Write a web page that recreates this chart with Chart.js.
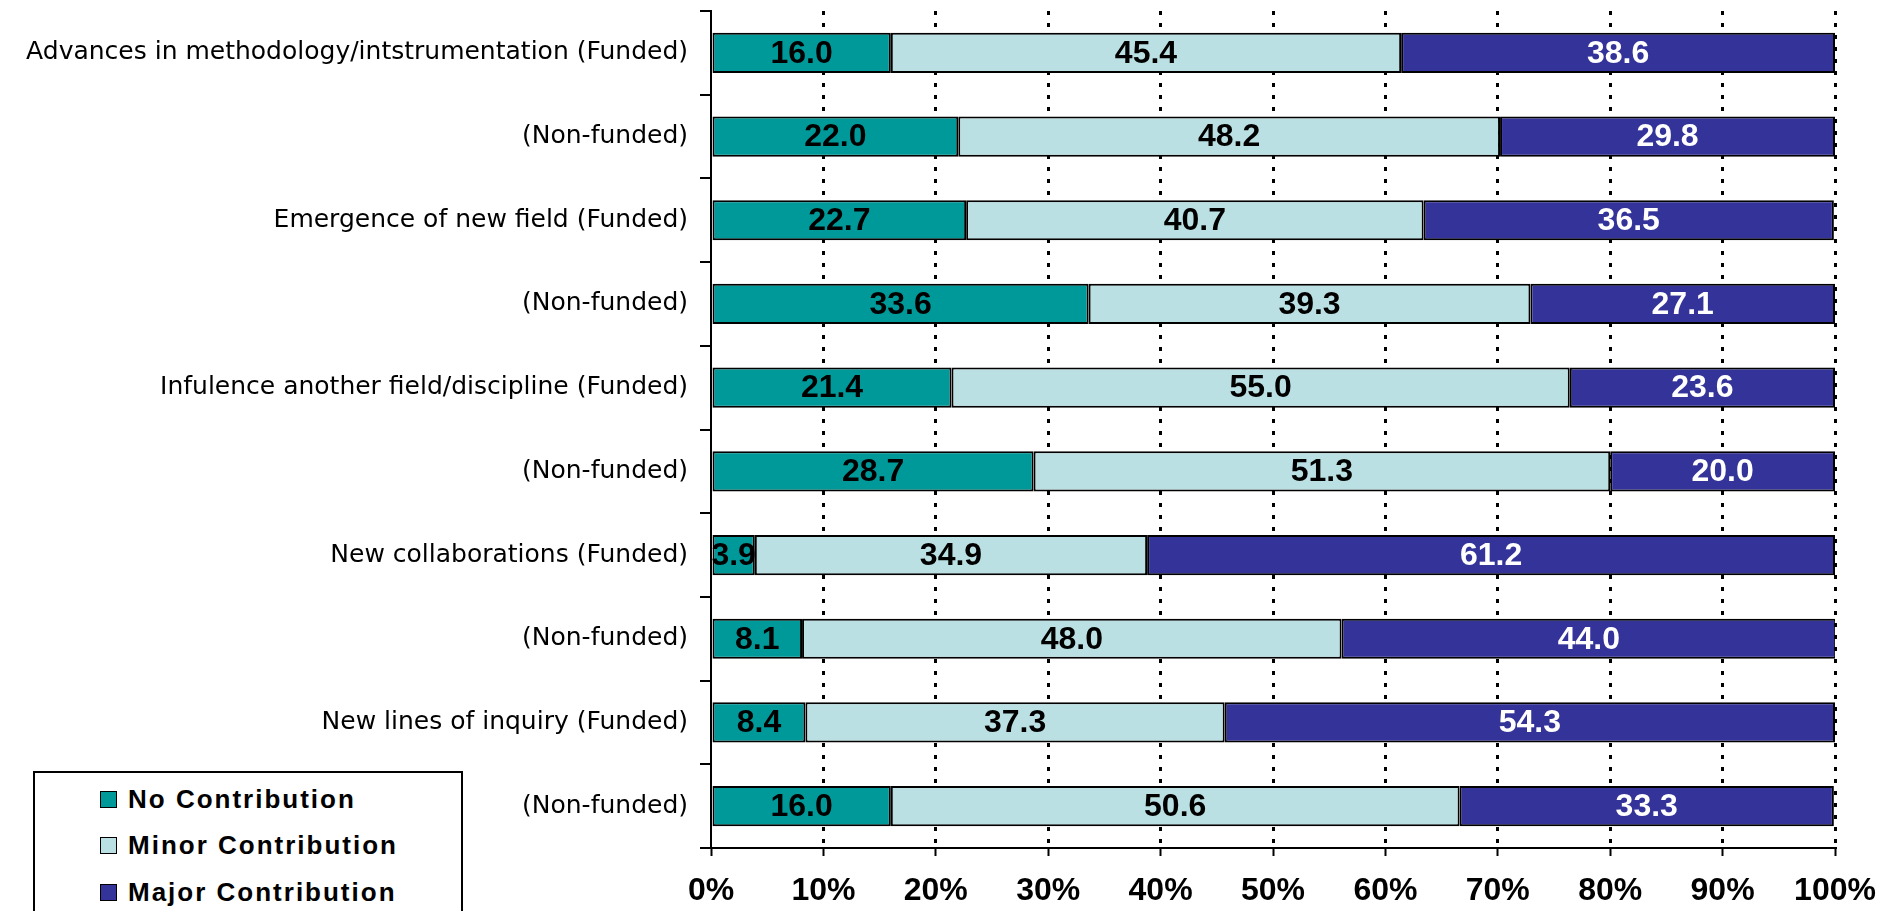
<!DOCTYPE html>
<html>
<head>
<meta charset="utf-8">
<script src="https://cdn.jsdelivr.net/npm/chart.js@4.4.1/dist/chart.umd.min.js"></script>
<style>
  html, body { margin: 0; padding: 0; background: #fff; }
  #wrap { position: relative; width: 1882px; height: 911px; overflow: hidden; }
  #legend {
    position: absolute; left: 33px; top: 771px; width: 430px; height: 160px;
    border: 2px solid #000; background: #fff; box-sizing: border-box;
    font-family: "Liberation Sans", Arial, sans-serif; font-weight: bold; font-size: 26px;
    letter-spacing: 2px; color: #000;
  }
  .li { position: absolute; left: 65px; height: 32px; display: flex; align-items: center; white-space: nowrap; }
  .sw { width: 15px; height: 15px; border: 1.5px solid #000; margin-right: 11px; flex: none; }
</style>
</head>
<body>
<div id="wrap">
  <canvas id="c" width="1882" height="911"></canvas>
  <div id="legend"></div>
</div>
<script>
const categories = [
  "Advances in methodology/intstrumentation (Funded)",
  "(Non-funded)",
  "Emergence of new field (Funded)",
  "(Non-funded)",
  "Infulence another field/discipline (Funded)",
  "(Non-funded)",
  "New collaborations (Funded)",
  "(Non-funded)",
  "New lines of inquiry (Funded)",
  "(Non-funded)"
];
const seriesNames = ["No Contribution", "Minor Contribution", "Major Contribution"];
const noContribution    = [16.0, 22.0, 22.7, 33.6, 21.4, 28.7, 3.9, 8.1, 8.4, 16.0];
const minorContribution = [45.4, 48.2, 40.7, 39.3, 55.0, 51.3, 34.9, 48.0, 37.3, 50.6];
const majorContribution = [38.6, 29.8, 36.5, 27.1, 23.6, 20.0, 61.2, 44.0, 54.3, 33.3];
const xTicks = [0, 10, 20, 30, 40, 50, 60, 70, 80, 90, 100];

const fills = ["#009999", "#BBE0E3", "#333399"];
const labelColors = ["#000000", "#000000", "#FFFFFF"];
const seriesValues = [noContribution, minorContribution, majorContribution];

const valueLabels = {
  id: "valueLabels",
  afterDatasetsDraw(chart) {
    const ctx = chart.ctx;
    ctx.save();
    ctx.font = "bold 32px 'Liberation Sans', Arial, sans-serif";
    ctx.textAlign = "center";
    ctx.textBaseline = "middle";
    chart.data.datasets.forEach((ds, di) => {
      const meta = chart.getDatasetMeta(di);
      meta.data.forEach((el, i) => {
        const v = ds.data[i];
        const cx = (el.x + el.base) / 2;
        ctx.fillStyle = labelColors[di];
        ctx.fillText(v.toFixed(1), cx, el.y + 1);
      });
    });
    ctx.restore();
  }
};

const chart = new Chart(document.getElementById("c"), {
  type: "bar",
  data: {
    labels: categories,
    datasets: seriesNames.map((name, k) => ({
      label: name,
      data: seriesValues[k],
      backgroundColor: fills[k],
      borderColor: "#000",
      borderWidth: 2,
      borderSkipped: false,
      barPercentage: 0.48,
      categoryPercentage: 1.0
    }))
  },
  options: {
    indexAxis: "y",
    responsive: false,
    animation: false,
    layout: { padding: { top: 11, right: 47, left: 0, bottom: 0 } },
    plugins: { legend: { display: false }, tooltip: { enabled: false } },
    scales: {
      x: {
        stacked: true,
        min: 0, max: 100,
        afterBuildTicks(scale) { scale.ticks = xTicks.map(v => ({ value: v })); },
        afterFit(scale) { scale.height = 63; scale.paddingLeft = 0; scale.paddingRight = 0; },
        ticks: {
          callback: v => v + "%",
          color: "#000",
          padding: 16,
          maxRotation: 0,
          font: { family: "'Liberation Sans', Arial, sans-serif", size: 32, weight: "bold" }
        },
        grid: {
          color: c => (c.tick && c.tick.value === 0) ? "rgba(0,0,0,0)" : "#000",
          lineWidth: 3,
          drawTicks: true,
          tickLength: 8,
          tickColor: "#000",
          tickWidth: 2,
          tickBorderDash: []
        },
        border: { display: true, color: "#000", width: 2, dash: [4, 8] }
      },
      y: {
        stacked: true,
        afterFit(scale) { scale.width = 711; scale.paddingTop = 0; scale.paddingBottom = 0; },
        ticks: {
          color: "#000",
          padding: 12,
          font: { family: "'DejaVu Sans', sans-serif", size: 25 }
        },
        grid: {
          display: true,
          offset: true,
          drawOnChartArea: false,
          drawTicks: true,
          tickLength: 11,
          color: "#000",
          lineWidth: 2
        },
        border: { display: true, color: "#000", width: 2 }
      }
    }
  },
  plugins: [valueLabels]
});

// HTML legend built from the chart's datasets
const lg = document.getElementById("legend");
const rowTops = [10, 56, 103];
chart.data.datasets.forEach((ds, k) => {
  const row = document.createElement("div");
  row.className = "li";
  row.style.top = rowTops[k] + "px";
  const sw = document.createElement("span");
  sw.className = "sw";
  sw.style.background = ds.backgroundColor;
  const tx = document.createElement("span");
  tx.textContent = ds.label;
  row.appendChild(sw);
  row.appendChild(tx);
  lg.appendChild(row);
});
</script>
</body>
</html>
